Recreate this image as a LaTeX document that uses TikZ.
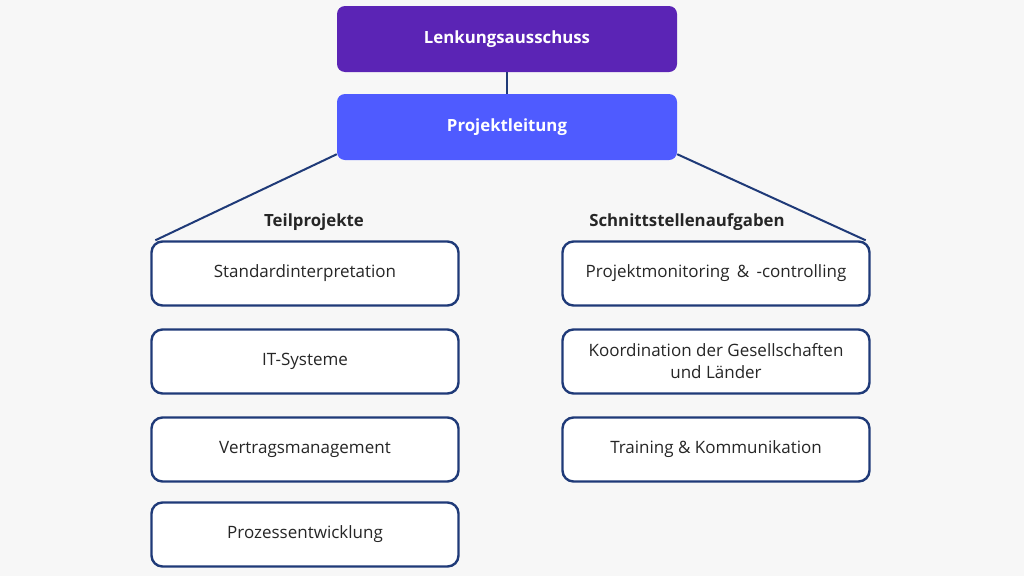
\documentclass[tikz,border=0pt]{standalone}
\usepackage{fontspec}
\setmainfont{Open Sans}
\definecolor{bg}{HTML}{F7F7F7}
\definecolor{purp}{HTML}{5B24B5}
\definecolor{blu}{HTML}{4F5BFF}
\definecolor{navy}{HTML}{1F3A78}
\definecolor{txt}{HTML}{262626}
\begin{document}
\begin{tikzpicture}[x=1pt,y=-1pt,
  topbox/.style={rounded corners=8pt,text=white,font=\bfseries\fontsize{16.8}{20}\selectfont,minimum width=340pt,minimum height=66pt,inner sep=0pt},
  itembox/.style={draw=navy,line width=2.4pt,fill=white,rounded corners=11pt,minimum width=307pt,minimum height=64pt,inner sep=0pt,text=txt,align=center,font=\fontsize{17}{22}\selectfont},
  head/.style={font=\bfseries\fontsize{16.8}{20}\selectfont,text=txt},
  conn/.style={draw=navy,line width=2pt}]
\useasboundingbox[fill=bg] (0,0) rectangle (1024,576);
\node[topbox,fill=purp] (lk) at (507,39) {Lenkungsausschuss};
\node[topbox,fill=blu] (pl) at (507,127) {Projektleitung};
\draw[conn] (lk.south) -- (pl.north);
\node[head] (h1) at (314,222) {Teilprojekte};
\node[head] (h2) at (687,222) {Schnittstellenaufgaben};
\node[itembox] (t1) at (305,273.5) {Standardinterpretation};
\node[itembox] (t2) at (305,361.5) {IT-Systeme};
\node[itembox] (t3) at (305,449.5) {Vertragsmanagement};
\node[itembox] (t4) at (305,534.5) {Prozessentwicklung};
\node[itembox] (s1) at (716,273.5) {Projektmonitoring \,\&\, -controlling};
\node[itembox] (s2) at (716,361.5) {Koordination der Gesellschaften\\und Länder};
\node[itembox] (s3) at (716,449.5) {Training \& Kommunikation};
\draw[conn] ([yshift=6pt]pl.south west) -- ([xshift=5pt]t1.north west);
\draw[conn] ([yshift=6pt]pl.south east) -- ([xshift=-5pt]s1.north east);
\end{tikzpicture}
\end{document}
